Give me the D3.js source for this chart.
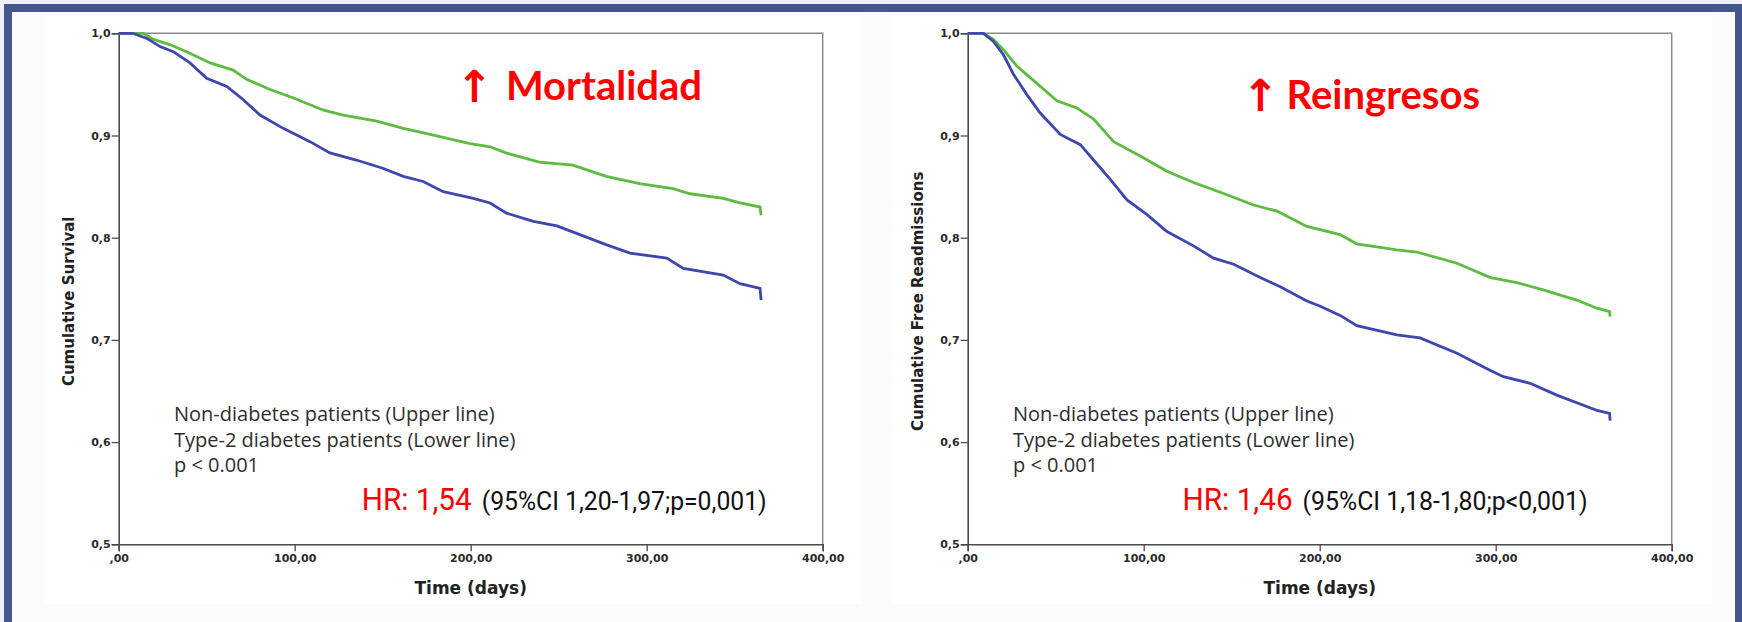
<!DOCTYPE html>
<html>
<head>
<meta charset="utf-8">
<script src="https://cdn.jsdelivr.net/npm/d3@7"></script>
<style>
  html, body { margin: 0; padding: 0; background: #eef0f6; }
  svg { display: block; }
</style>
</head>
<body>
<div id="chart"></div>
<script>
// Data: [day, cumulative proportion]
var mortNoDiab = [[0,1],[14,1],[19.7,0.994],[29,0.989],[38.6,0.982],[52,0.971],[65,0.964],[72.7,0.955],[86,0.945],[99,0.937],[116,0.925],[127.6,0.920],[146.6,0.914],[161.7,0.907],[177,0.901],[199.6,0.892],[211,0.889],[220,0.883],[239,0.874],[258,0.871],[277,0.860],[296,0.853],[315,0.848],[324.6,0.843],[343.5,0.8385],[353,0.834],[364.4,0.830],[365,0.822]];
var mortDiab = [[0,1],[8,1],[16,0.995],[23.5,0.987],[31,0.982],[40.5,0.971],[50,0.956],[61.4,0.948],[70.8,0.935],[80.3,0.920],[93.5,0.907],[108.7,0.894],[120,0.883],[135,0.876],[150,0.868],[161.7,0.860],[173,0.855],[184.4,0.845],[201.5,0.8385],[211,0.834],[220.4,0.824],[235.6,0.816],[249,0.8115],[262,0.803],[277.3,0.793],[290.5,0.785],[311.4,0.780],[320.8,0.770],[343.5,0.7635],[353,0.755],[364.4,0.7505],[365,0.739]];
var readmNoDiab = [[0,1],[9,1],[14.6,0.994],[20.3,0.984],[27.9,0.968],[39.3,0.951],[50.7,0.934],[62,0.927],[71.5,0.916],[82.9,0.894],[98,0.880],[113.2,0.865],[128.3,0.854],[147.3,0.842],[162.4,0.832],[175.7,0.826],[192.7,0.811],[211.6,0.803],[221,0.794],[243.8,0.788],[255.2,0.786],[278,0.775],[297,0.761],[312,0.756],[327,0.749],[346,0.739],[357.5,0.731],[364.7,0.7276],[365,0.7227]];
var readmDiab = [[0,1],[9,1],[14.6,0.992],[20.3,0.979],[26,0.960],[33.6,0.940],[41.2,0.922],[52.6,0.901],[64,0.891],[71.5,0.876],[81,0.857],[90.5,0.837],[101.9,0.8225],[113.2,0.806],[128.3,0.792],[139.7,0.780],[151.1,0.774],[166.2,0.761],[177.6,0.752],[192.7,0.738],[200.3,0.733],[211.6,0.724],[221.1,0.714],[243.8,0.705],[257,0.702],[278,0.687],[297,0.670],[304.4,0.664],[319.6,0.6575],[334.7,0.646],[349.8,0.636],[357.5,0.631],[364.7,0.628],[365,0.621]];

var xTicks = [0, 100, 200, 300, 400];
var yTicks = [0.5, 0.6, 0.7, 0.8, 0.9, 1.0];
var legendLines = ["Non-diabetes patients (Upper line)", "Type-2 diabetes patients (Lower line)", "p < 0.001"];

var panels = [
  { left: 118.7, yTitle: "Cumulative Survival", head: "Mortalidad", arrowX: 456, headEnd: 702, headY: 100,
    upper: mortNoDiab, lower: mortDiab, legendX: 174,
    hr: "HR: 1,54", ci: "(95%CI 1,20-1,97;p=0,001)", hrX: 361.7 },
  { left: 967.7, yTitle: "Cumulative Free Readmissions", head: "Reingresos", arrowX: 1242, headEnd: 1480, headY: 109,
    upper: readmNoDiab, lower: readmDiab, legendX: 1013,
    hr: "HR: 1,46", ci: "(95%CI 1,18-1,80;p<0,001)", hrX: 1182.6 }
];

var svgWidth = 1742;
var svgHeight = 622;
var plotTop = 33.3;
var width = 704;
var height = 511;

var svg = d3.select("#chart")
  .append("svg")
  .attr("width", svgWidth)
  .attr("height", svgHeight);

// page + blue frame
svg.append("rect")
  .attr("x", 8).attr("y", 8)
  .attr("width", 1731).attr("height", 620)
  .attr("fill", "#fbfbfc")
  .attr("stroke", "#45558e")
  .attr("stroke-width", 8);

var x = d3.scaleLinear().domain([0, 400]).range([0, width]);
var y = d3.scaleLinear().domain([0.5, 1]).range([height, 0]);

var line = d3.line()
  .x(d => x(d[0]))
  .y(d => y(d[1]));

var comma = s => s.replace(".", ",");

panels.forEach(function (p) {
  var g = svg.append("g")
    .attr("transform", `translate(${p.left}, ${plotTop})`);

  g.append("rect")
    .attr("x", -75).attr("y", -20)
    .attr("width", width + 115).attr("height", height + 80)
    .attr("fill", "#ffffff");

  // frame top/right
  g.append("path")
    .attr("d", `M0,0H${width}V${height}`)
    .attr("fill", "none")
    .attr("stroke", "#8a8a8a")
    .attr("stroke-width", 1.5);

  // axes
  var xAxis = g.append("g")
    .attr("transform", `translate(0, ${height})`)
    .call(d3.axisBottom(x).tickValues(xTicks).tickSize(7).tickPadding(3)
      .tickFormat(d => d === 0 ? ",00" : comma(d3.format(".2f")(d))));

  var yAxis = g.append("g")
    .call(d3.axisLeft(y).tickValues(yTicks).tickSize(7).tickPadding(1)
      .tickFormat(d => comma(d3.format(".1f")(d))));

  [xAxis, yAxis].forEach(function (a) {
    a.select(".domain").attr("stroke", "#4a4a4a").attr("stroke-width", 1.6);
    a.selectAll(".tick line").attr("stroke", "#4a4a4a").attr("stroke-width", 1.3);
    a.selectAll("text")
      .attr("fill", "#2a2a2a")
      .style("font-family", "DejaVu Sans")
      .style("font-weight", "bold")
      .style("font-size", "11px");
  });

  // curves
  g.append("path")
    .datum(p.upper)
    .attr("d", line)
    .attr("fill", "none")
    .attr("stroke", "#5dbb42")
    .attr("stroke-width", 2.8)
    .attr("stroke-linejoin", "miter");

  g.append("path")
    .datum(p.lower)
    .attr("d", line)
    .attr("fill", "none")
    .attr("stroke", "#3d47ad")
    .attr("stroke-width", 2.8)
    .attr("stroke-linejoin", "miter");

  // axis titles
  g.append("text")
    .attr("transform", `translate(${-50}, ${268}) rotate(-90)`)
    .attr("text-anchor", "middle")
    .attr("dy", "0.35em")
    .style("font-family", "DejaVu Sans")
    .style("font-weight", "bold")
    .style("font-size", "15px")
    .attr("fill", "#222")
    .text(p.yTitle);

  g.append("text")
    .attr("x", x(200))
    .attr("y", 561)
    .attr("text-anchor", "middle")
    .style("font-family", "DejaVu Sans")
    .style("font-weight", "bold")
    .style("font-size", "17px")
    .attr("fill", "#222")
    .text("Time (days)");

  // headline
  svg.append("text")
    .attr("x", p.arrowX)
    .attr("y", p.headY + 2)
    .style("font-family", "DejaVu Sans")
    .style("font-weight", "bold")
    .style("font-size", "44px")
    .attr("fill", "#ff0000")
    .text("\u2191");

  svg.append("text")
    .attr("x", p.headEnd)
    .attr("y", p.headY)
    .attr("text-anchor", "end")
    .style("font-family", "Lato")
    .style("font-weight", "bold")
    .style("font-size", "40px")
    .attr("fill", "#ff0000")
    .text(p.head);

  // legend text
  svg.selectAll(null)
    .data(legendLines)
    .enter()
    .append("text")
    .attr("x", p.legendX)
    .attr("y", (d, i) => 421 + i * 25.5)
    .style("font-family", "Open Sans")
    .style("font-size", "20px")
    .attr("fill", "#2e2e2e")
    .text(d => d);

  // hazard ratio
  svg.append("text")
    .attr("x", p.hrX)
    .attr("y", 510)
    .attr("textLength", 110)
    .attr("lengthAdjust", "spacingAndGlyphs")
    .style("font-family", "Roboto")
    .style("font-size", "32px")
    .attr("fill", "#ff0000")
    .text(p.hr);

  svg.append("text")
    .attr("x", p.hrX + 120)
    .attr("y", 510)
    .attr("textLength", 285)
    .attr("lengthAdjust", "spacingAndGlyphs")
    .style("font-family", "Roboto")
    .style("font-size", "25px")
    .attr("fill", "#111")
    .text(p.ci);
});
</script>
</body>
</html>
